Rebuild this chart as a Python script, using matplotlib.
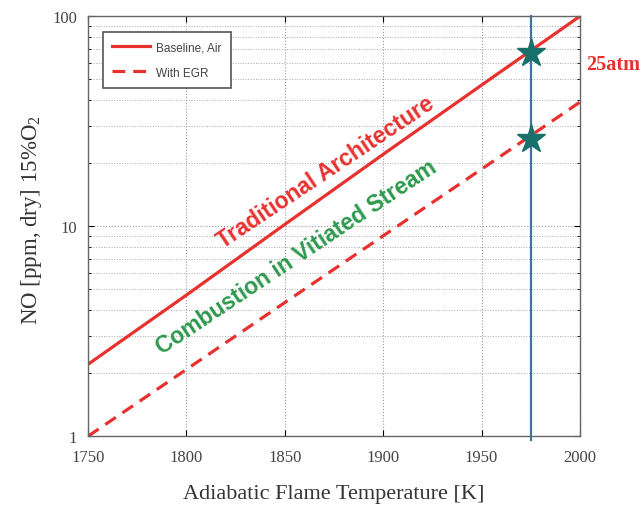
import matplotlib
matplotlib.use("Agg")
import matplotlib.pyplot as plt
from matplotlib.ticker import LogLocator, NullFormatter, FixedLocator

temps = [1750, 1800, 1850, 1900, 1950, 2000]
baseline_air = [2.2, 4.7, 10.2, 22.0, 47.0, 100.0]
with_egr = [1.0, 2.08, 4.33, 9.0, 18.7, 39.0]
design_temp = 1975
star_values = [67.0, 26.0]
xticks = [1750, 1800, 1850, 1900, 1950, 2000]
yticks = [1, 10, 100]
ytick_labels = ["1", "10", "100"]

red = "#e8312f"
serif = ["Liberation Serif", "DejaVu Serif"]
sans = ["Liberation Sans", "DejaVu Sans"]
plt.rcParams["mathtext.fontset"] = "custom"
plt.rcParams["mathtext.rm"] = "Liberation Serif"
plt.rcParams["mathtext.it"] = "Liberation Serif:italic"
plt.rcParams["mathtext.bf"] = "Liberation Serif:bold"

fig = plt.figure(figsize=(6.43, 5.06), dpi=100)
ax = fig.add_axes([0.137, 0.136, 0.765, 0.830])

ax.plot(temps, baseline_air, color=red, lw=2.3, label="Baseline, Air")
ax.plot(temps, with_egr, color=red, lw=2.3, ls=(0, (4, 2.5)), label="With EGR")
ax.axvline(design_temp, ymin=-0.01, ymax=1.0, color="#3a75a8", lw=1.6, clip_on=False)
ax.plot([design_temp] * len(star_values), star_values, ls="none", marker="*",
        ms=21, color="#17706a", markeredgecolor="#17706a", zorder=5)

ax.set_yscale("log")
ax.set_xlim(1750, 2000)
ax.set_ylim(1, 100)
ax.xaxis.set_major_locator(FixedLocator(xticks))
ax.set_yticks(yticks)
ax.set_yticklabels(ytick_labels)
ax.yaxis.set_minor_locator(LogLocator(base=10, subs=range(2, 10)))
ax.yaxis.set_minor_formatter(NullFormatter())
ax.tick_params(which="both", direction="in", top=True, right=True, labelsize=12)
ax.tick_params(which="major", length=4)
ax.tick_params(which="minor", length=2.5)
for lab in ax.get_xticklabels() + ax.get_yticklabels():
    lab.set_fontfamily(serif)
    lab.set_color("#444444")
ax.tick_params(axis="x", pad=9)
ax.tick_params(axis="y", pad=8)

ax.grid(which="major", ls=":", color="#999999", lw=0.8)
ax.grid(which="minor", axis="y", ls=":", color="#aaaaaa", lw=0.7)
for s in ax.spines.values():
    s.set_color("#666666")
    s.set_linewidth(1.0)

ax.set_xlabel("Adiabatic Flame Temperature [K]", fontfamily=serif, fontsize=16, color="#333333")
ax.xaxis.set_label_coords(0.5, -0.113)
ax.set_ylabel("NO [ppm, dry] 15%O$_\\mathrm{2}$", fontfamily=serif, fontsize=16.5, color="#333333")
ax.yaxis.set_label_coords(-0.09, 0.517)

leg = ax.legend(loc="upper left", bbox_to_anchor=(0.030, 0.962), handlelength=3.2,
                prop={"family": sans, "size": 8.5},
                fancybox=False, edgecolor="#555555", framealpha=1, borderpad=0.8,
                labelspacing=1.1, borderaxespad=0, handletextpad=0.5)
leg.get_frame().set_linewidth(1.2)
for t in leg.get_texts():
    t.set_color("#444444")

ax.text(1871, 18.1, "Traditional Architecture", color=red, fontsize=16.5, fontweight="bold",
        fontfamily=sans, rotation=33.7, ha="center", va="center")
ax.text(1856, 7.2, "Combustion in Vitiated Stream", color="#2e9a4e", fontsize=16.5, fontweight="bold",
        fontfamily=sans, rotation=33.7, ha="center", va="center")
fig.text(0.911, 0.872, "25atm", color=red, fontsize=14.5, fontweight="bold", fontfamily=serif,
         ha="left", va="center")

fig.savefig("out.png", dpi=100)
